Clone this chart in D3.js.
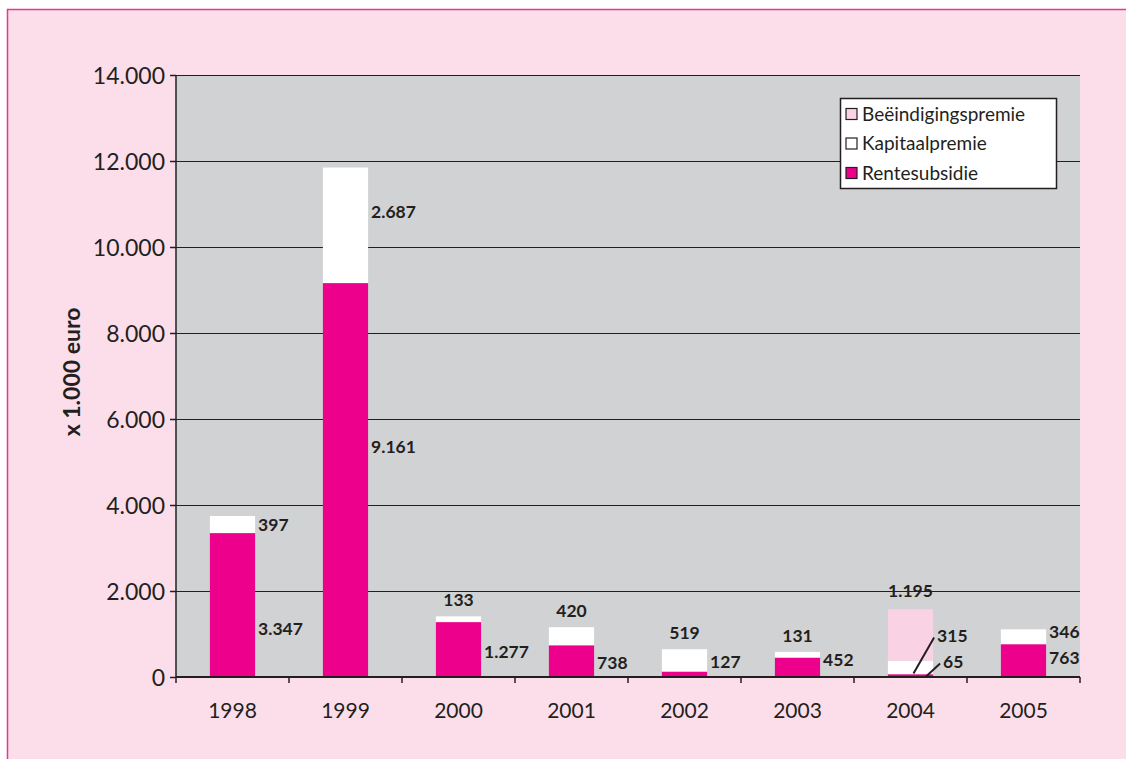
<!DOCTYPE html>
<html lang="nl">
<head>
	<meta charset="UTF-8">
	<title>Subsidies x 1.000 euro</title>
	<script type="text/javascript" src="https://cdn.jsdelivr.net/npm/d3@7"></script>
	<style>
		html, body {
			margin: 0;
			padding: 0;
			background: #fff;
		}
		svg text {
			font-family: Lato, "Open Sans", sans-serif;
			fill: #231f20;
		}
	</style>
</head>
<body>
<div id="viz"></div>

<script type="text/javascript">
	var years = ['1998', '1999', '2000', '2001', '2002', '2003', '2004', '2005'];
	var rentesubsidie = [3347, 9161, 1277, 738, 127, 452, 65, 763];
	var kapitaalpremie = [397, 2687, 133, 420, 519, 131, 315, 346];
	var beeindigingspremie = [0, 0, 0, 0, 0, 0, 1195, 0];
	var seriesNames = ['Rentesubsidie', 'Kapitaalpremie', 'Beëindigingspremie'];
	var yTicks = [0, 2000, 4000, 6000, 8000, 10000, 12000, 14000];

	window.onload = function () {

		var W = 1126, H = 759;
		var margin = {top: 75, left: 176, bottom: 82, right: 46};
		var width = W - margin.left - margin.right;
		var height = H - margin.top - margin.bottom;

		var nl = d3.formatLocale({decimal: ',', thousands: '.', grouping: [3], currency: ['€', '']});
		var fmt = nl.format(',d');

		var colors = {
			Rentesubsidie: '#ec008c',
			Kapitaalpremie: '#ffffff',
			'Beëindigingspremie': '#f9d3e4'
		};

		var rows = years.map(function (y, i) {
			return {
				year: y,
				Rentesubsidie: rentesubsidie[i],
				Kapitaalpremie: kapitaalpremie[i],
				'Beëindigingspremie': beeindigingspremie[i]
			};
		});

		var stacked = d3.stack().keys(seriesNames)(rows);

		var x = d3.scaleBand().domain(years).range([0, width]).paddingInner(0.6).paddingOuter(0.3);
		var xCat = d3.scaleBand().domain(years).range([0, width]);
		var y = d3.scaleLinear().domain([0, 14000]).range([height, 0]);

		var svg = d3.select('#viz').append('svg')
			.attr('width', W)
			.attr('height', H);

		// pink page frame
		svg.append('rect')
			.attr('x', 7.5).attr('y', 9.5)
			.attr('width', W + 20).attr('height', H + 20)
			.attr('fill', '#fbdeea')
			.attr('stroke', '#e8358f')
			.attr('stroke-width', 1.5);

		var g = svg.append('g')
			.attr('transform', 'translate(' + margin.left + ',' + margin.top + ')');

		g.append('rect')
			.attr('width', width).attr('height', height)
			.attr('fill', '#d1d2d4');

		// grid lines
		g.selectAll('.grid')
			.data(yTicks.filter(function (d) { return d > 0; }))
			.enter().append('line')
			.attr('class', 'grid')
			.attr('x1', 0).attr('x2', width)
			.attr('y1', function (d) { return Math.round(y(d)) + 0.5; })
			.attr('y2', function (d) { return Math.round(y(d)) + 0.5; })
			.attr('stroke', '#231f20')
			.attr('stroke-width', 1.2);

		// bars
		g.selectAll('.series')
			.data(stacked)
			.enter().append('g')
			.attr('class', 'series')
			.attr('fill', function (d) { return colors[d.key]; })
			.selectAll('rect')
			.data(function (d) { return d; })
			.enter().append('rect')
			.attr('x', function (d) { return x(d.data.year); })
			.attr('width', x.bandwidth())
			.attr('y', function (d) { return y(d[1]); })
			.attr('height', function (d) { return y(d[0]) - y(d[1]); });

		// axes
		var yAxis = d3.axisLeft(y).tickValues(yTicks).tickSize(6).tickFormat(function (d) { return fmt(d); });
		var gy = g.append('g').call(yAxis);
		gy.select('.domain').attr('stroke', '#231f20').attr('stroke-width', 1.5).attr('d', 'M0,' + height + 'V0');
		gy.selectAll('.tick line').attr('stroke', '#231f20').attr('stroke-width', 1.5);
		gy.selectAll('.tick text')
			.attr('x', -11)
			.style('font-size', '23px')
			.attr('dy', '0.35em');

		var gx = g.append('g').attr('transform', 'translate(0,' + height + ')');
		gx.append('line')
			.attr('x1', 0).attr('x2', width)
			.attr('stroke', '#231f20').attr('stroke-width', 2);
		gx.selectAll('.xt')
			.data(years.concat(['end']))
			.enter().append('line')
			.attr('x1', function (d, i) { return i * xCat.bandwidth(); })
			.attr('x2', function (d, i) { return i * xCat.bandwidth(); })
			.attr('y1', 0).attr('y2', 6)
			.attr('stroke', '#231f20').attr('stroke-width', 1.5);
		gx.selectAll('.xl')
			.data(years)
			.enter().append('text')
			.attr('x', function (d) { return xCat(d) + xCat.bandwidth() / 2; })
			.attr('y', 41)
			.attr('text-anchor', 'middle')
			.style('font-size', '21px')
			.text(function (d) { return d; });

		// y title
		svg.append('text')
			.attr('transform', 'translate(80,' + (margin.top + height / 2 - 4) + ') rotate(-90)')
			.attr('text-anchor', 'middle')
			.style('font-size', '23px')
			.style('font-weight', 'bold')
			.text('x 1.000 euro');

		// value labels (Excel-style placement, nudged by hand)
		// pos: 'right' = right of bar, 'top' = centered above the stack; dy = shift from segment middle
		var labelPlace = {
			'1998-Kapitaalpremie': {pos: 'right', dy: 0},
			'1998-Rentesubsidie': {pos: 'right', dy: 24},
			'1999-Kapitaalpremie': {pos: 'right', dy: -13},
			'1999-Rentesubsidie': {pos: 'right', dy: -33},
			'2000-Kapitaalpremie': {pos: 'top'},
			'2000-Rentesubsidie': {pos: 'right', dy: 2},
			'2001-Kapitaalpremie': {pos: 'top'},
			'2001-Rentesubsidie': {pos: 'right', dy: 2},
			'2002-Kapitaalpremie': {pos: 'top'},
			'2002-Rentesubsidie': {pos: 'right', dy: -12},
			'2003-Kapitaalpremie': {pos: 'top'},
			'2003-Rentesubsidie': {pos: 'right', dy: -7},
			'2004-Beëindigingspremie': {pos: 'top', dy: -2},
			'2004-Kapitaalpremie': {pos: 'leader', dx: 4, dy: -32},
			'2004-Rentesubsidie': {pos: 'leader', dx: 10, dy: -14},
			'2005-Kapitaalpremie': {pos: 'right', dy: -5},
			'2005-Rentesubsidie': {pos: 'right', dy: -3}
		};

		var labels = [];
		stacked.forEach(function (s) {
			s.forEach(function (d) {
				var v = d[1] - d[0];
				if (v <= 0) return;
				labels.push({key: d.data.year + '-' + s.key, year: d.data.year, v: v, y0: d[0], y1: d[1], top: d3.sum(seriesNames, function (k) { return d.data[k]; })});
			});
		});

		var lg = g.append('g');
		labels.forEach(function (l) {
			var p = labelPlace[l.key] || {pos: 'right', dy: 0};
			var bx = x(l.year), bw = x.bandwidth();
			var mid = (y(l.y0) + y(l.y1)) / 2;
			var tx, ty, anchor = 'start';
			if (p.pos === 'top') {
				tx = bx + bw / 2;
				ty = y(l.top) - 16 + (p.dy || 0);
				anchor = 'middle';
			} else if (p.pos === 'leader') {
				var lx = bx + bw / 2 + 3 + (l.y0 === 0 ? 12 : 0);
				var ly = l.y0 === 0 ? y(0) : mid + 6;
				tx = bx + bw + p.dx;
				ty = mid + p.dy;
				lg.append('line')
					.attr('x1', lx).attr('y1', ly)
					.attr('x2', tx - 3).attr('y2', ty + 2)
					.attr('stroke', '#231f20').attr('stroke-width', 2);
			} else {
				tx = bx + bw + 3;
				ty = mid + p.dy;
			}
			lg.append('text')
				.attr('x', tx).attr('y', ty)
				.attr('dy', '0.35em')
				.attr('text-anchor', anchor)
				.style('font-size', '17.5px')
				.style('font-weight', 'bold')
				.text(fmt(l.v));
		});

		// legend
		var legend = svg.append('g').attr('transform', 'translate(840,98)');
		legend.append('rect')
			.attr('x', 0.5).attr('y', 0.5)
			.attr('width', 216).attr('height', 90)
			.attr('fill', '#fff')
			.attr('stroke', '#231f20').attr('stroke-width', 1.5);
		var items = seriesNames.slice().reverse();
		items.forEach(function (k, i) {
			var row = legend.append('g').attr('transform', 'translate(6,' + (16 + i * 29.5) + ')');
			row.append('rect')
				.attr('x', 0).attr('y', -5.5)
				.attr('width', 11).attr('height', 11)
				.attr('fill', colors[k])
				.attr('stroke', '#231f20').attr('stroke-width', 1.2);
			row.append('text')
				.attr('x', 16).attr('dy', '0.35em')
				.style('font-size', '19px')
				.text(k);
		});
	};
</script>
</body>
</html>
